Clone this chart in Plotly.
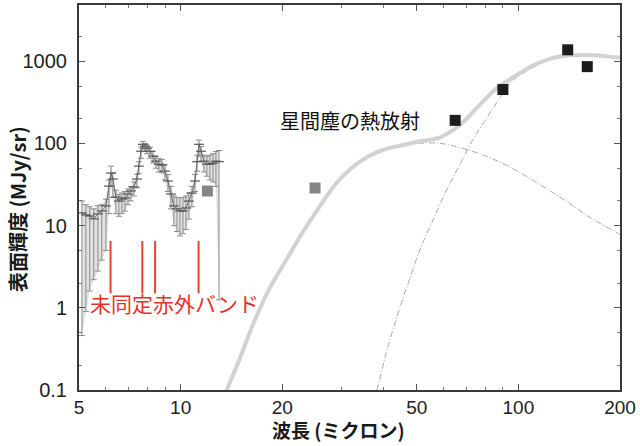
import math
import plotly.graph_objects as go

# ---------------- data ----------------
# mid-infrared spectrum (wavelength in micron, brightness in MJy/sr)
spec_wl = [5.10, 5.24, 5.38, 5.53, 5.69, 5.84, 6.01, 6.13, 6.22, 6.30, 6.43, 6.56, 6.70, 6.84,
           6.98, 7.12, 7.27, 7.42, 7.52, 7.63, 7.73, 7.84, 7.94, 8.11, 8.28, 8.45, 8.62, 8.80,
           8.98, 9.17, 9.36, 9.55, 9.75, 9.95, 10.16, 10.37, 10.58, 10.80, 11.03, 11.18, 11.33,
           11.49, 11.72, 11.96, 12.21, 12.47, 12.72, 12.99]
spec_val = [14.3, 13.5, 13.1, 12.1, 13.9, 15.1, 17.4, 30.3, 43.6, 36.9, 22.3, 19.9, 21.1, 21.7,
            24.3, 26.4, 29.5, 36.9, 53.0, 80.5, 97.7, 92.5, 87.5, 80.5, 70.0, 60.9, 56.0, 54.5,
            46.1, 34.9, 24.3, 17.4, 16.0, 15.1, 15.1, 16.4, 19.9, 24.9, 34.9, 60.0, 97.7,
            80.5, 60.9, 56.0, 56.0, 57.6, 60.9, 60.0]
spec_hi = [20, 18, 17, 16, 17.5, 18, 21, 36, 53, 44, 27, 24, 25, 26,
           28, 30, 34, 42, 60, 90, 106, 100, 96, 90, 80, 70, 66, 64,
           55, 42, 30, 23, 22, 22, 22, 23, 25, 30, 42, 72, 110,
           92, 72, 70, 72, 75, 80, 82]
spec_lo = [0.46, 0.9, 1.6, 2.2, 2.8, 3.8, 5.0, 14, 30, 22, 14, 13, 14, 15,
           18, 20, 23, 29, 43, 66, 86, 80, 75, 66, 58, 50, 45, 44,
           36, 26, 16, 10, 8.5, 7.5, 8.0, 9.0, 12, 17, 26, 46, 70,
           60, 45, 40, 36, 34, 30, 1.25]

# photometric points
iras_wl = [12, 25]
iras_val = [26.4, 28.7]
akari_wl = [65, 90, 140, 160]
akari_val = [191, 453, 1380, 861]

# model curves
total_wl = [13.4, 13.7, 14.9, 16.25, 18.2, 20.5, 22.85, 25.65, 28.8, 32.1, 36.1, 40.5, 44.2,
            51.7, 58.1, 66.6, 76.3, 85.7, 95.5, 109.4, 125.4, 143.7, 169.3, 194, 200]
total_val = [0.08, 0.1, 0.23, 0.58, 1.63, 3.77, 8.0, 16.5, 32.3, 50.5, 70.5, 85.7, 93.3,
             107, 117, 163, 285, 458, 622, 869, 1087, 1183, 1183, 1117, 1110]
warm_wl = [40.5, 44.2, 47.3, 58.1, 67.9, 80.0, 95.5, 114.8, 138, 164.8, 198, 200]
warm_val = [84, 92, 98.6, 101, 88, 70.5, 50.5, 32.3, 20.1, 12.2, 8.0, 7.8]
cold_wl = [37.0, 38.1, 40.8, 44.6, 47.8, 51.1, 55.9, 61.5, 67.2, 73.4, 80.8, 88.3, 95.5,
           110, 125, 145, 170, 200]
cold_val = [0.075, 0.1, 0.305, 1.01, 2.33, 5.09, 11.7, 27.9, 56, 112, 207, 363, 570,
            830, 1060, 1165, 1170, 1100]

# unidentified infrared band positions
uib_wl = [6.2, 7.7, 8.4, 11.3]
uib_range = [1.5, 6.5]

x_ticks = [5, 10, 20, 50, 100, 200]
x_minor = [6, 7, 8, 9, 30, 40, 60, 70, 80, 90]
y_ticks = [0.1, 1, 10, 100, 1000]
y_minor = [0.2, 0.5, 2, 5, 20, 50, 200, 500, 2000]

# ---------------- figure ----------------
fig = go.Figure()

# model components (dash-dot thin gray)
for wl, val in [(warm_wl, warm_val), (cold_wl, cold_val)]:
    fig.add_trace(go.Scatter(x=wl, y=val, mode="lines",
                             line=dict(color="#a8a8a8", width=1, dash="6px,2px,1px,2px",
                                       shape="spline", smoothing=0.8),
                             hoverinfo="skip"))

# total model (thick light gray)
fig.add_trace(go.Scatter(x=total_wl, y=total_val, mode="lines",
                         line=dict(color="#d2d2d2", width=4, shape="spline", smoothing=0.8),
                         hoverinfo="skip"))

# spectrum: light fill between error ends
fig.add_trace(go.Scatter(x=spec_wl + spec_wl[::-1], y=spec_hi + spec_lo[::-1],
                         mode="lines", fill="toself", fillcolor="rgba(200,200,200,0.55)",
                         line=dict(width=0), hoverinfo="skip"))

err_plus = [h - v for h, v in zip(spec_hi, spec_val)]
err_minus = [v - l for v, l in zip(spec_val, spec_lo)]
fig.add_trace(go.Scatter(x=spec_wl, y=spec_val, mode="lines+markers",
                         line=dict(color="#6a6a6a", width=1),
                         marker=dict(symbol="line-ew", size=7,
                                     line=dict(color="#555555", width=1.2)),
                         error_y=dict(type="data", symmetric=False, array=err_plus,
                                      arrayminus=err_minus, color="#8c8c8c",
                                      thickness=1, width=3)))

# red band markers
rx, ry = [], []
for w in uib_wl:
    rx += [w, w, None]
    ry += [uib_range[0], uib_range[1], None]
fig.add_trace(go.Scatter(x=rx, y=ry, mode="lines",
                         line=dict(color="#e8452f", width=2), hoverinfo="skip"))

# photometry squares
fig.add_trace(go.Scatter(x=iras_wl, y=iras_val, mode="markers",
                         marker=dict(symbol="square", size=11, color="#858585",
                                     line=dict(width=0))))
fig.add_trace(go.Scatter(x=akari_wl, y=akari_val, mode="markers",
                         marker=dict(symbol="square", size=11, color="#1c1c1c",
                                     line=dict(width=0))))

axis_common = dict(type="log", showgrid=False, zeroline=False, showline=True,
                   linecolor="#3a3a3a", linewidth=2, mirror="ticks",
                   ticks="inside", ticklen=6, tickwidth=1, tickcolor="#555555")
tick_family = "Liberation Sans, Arial, sans-serif"

fig.update_layout(
    width=640, height=446,
    margin=dict(l=79, r=20, t=3, b=56),
    paper_bgcolor="white", plot_bgcolor="white",
    showlegend=False,
    xaxis=dict(range=[math.log10(5), math.log10(200)], tickvals=x_ticks,
               ticktext=[str(v) for v in x_ticks],
               tickfont=dict(family=tick_family, size=19, color="#222222"),
               minor=dict(tickvals=x_minor, ticks="inside", ticklen=3,
                          tickcolor="#777777", showgrid=False),
               ticklabelstandoff=-1,
               **axis_common),
    yaxis=dict(range=[-1, 3.685], tickvals=y_ticks,
               ticktext=["0.1", "1", "10", "100", "1000"],
               tickfont=dict(family=tick_family, size=20, color="#222222"),
               minor=dict(tickvals=y_minor, ticks="inside", ticklen=3,
                          tickcolor="#777777", showgrid=False),
               ticklabelstandoff=6,
               **axis_common),
)

cjk = "Noto Sans CJK JP"
fig.add_annotation(text="<b>波長 (ミクロン)</b>", xref="paper", yref="paper",
                   x=0.479, y=-0.1435, xanchor="center", yanchor="bottom", showarrow=False,
                   font=dict(family=cjk, size=19, color="#1a1a1a"))
fig.add_annotation(text="<b>表面輝度 (MJy/sr)</b>", xref="paper", yref="paper",
                   x=-0.1146, y=0.47, xanchor="center", yanchor="middle",
                   textangle=-90, showarrow=False,
                   font=dict(family=cjk, size=20, color="#1a1a1a"))
fig.add_annotation(text="星間塵の熱放射", x=math.log10(31.7), y=math.log10(191),
                   xanchor="center", yanchor="middle",
                   showarrow=False, font=dict(family=cjk, size=20, color="#111111"))
fig.add_annotation(text="未同定赤外バンド", x=math.log10(9.62), y=math.log10(1.13),
                   xanchor="center", yanchor="middle",
                   showarrow=False, font=dict(family=cjk, size=21, color="#e8302a"))

fig.write_html("out.html", config={"displayModeBar": False},
               post_script="document.body.style.margin='0';document.body.style.padding='0';")
